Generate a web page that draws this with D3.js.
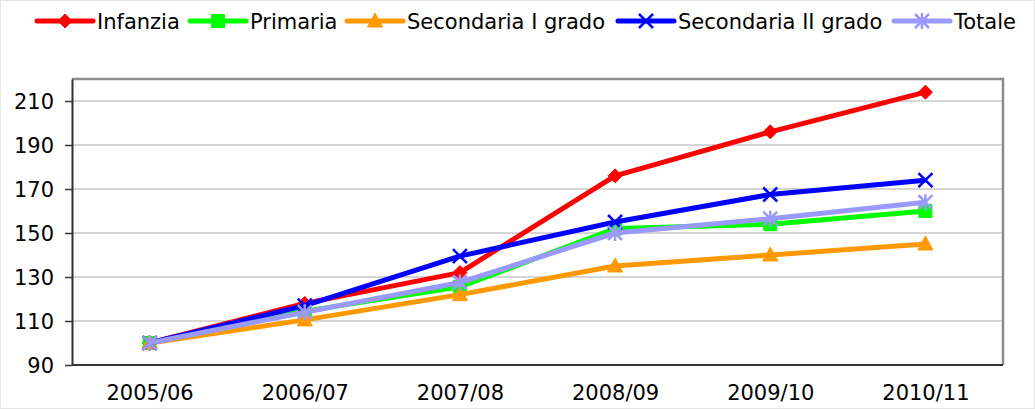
<!DOCTYPE html>
<html>
<head>
<meta charset="utf-8">
<script src="https://cdn.jsdelivr.net/npm/d3@7"></script>
<style>
  body { margin: 0; background: #fff; }
  text { font-family: "DejaVu Sans", Verdana, sans-serif; fill: #000; }
</style>
</head>
<body>
<svg id="chart" width="1035" height="409"></svg>
<script>
// anni scolastici
var years = ['2005/06', '2006/07', '2007/08', '2008/09', '2009/10', '2010/11'];
// valori per serie (indice, 2005/06 = 100)
var infanzia = [100, 118, 132, 176, 196, 214];
var primaria = [100, 114.5, 125.5, 152, 154, 160];
var secondaria1 = [100, 110.5, 122, 135, 140, 145];
var secondaria2 = [100, 117, 139.5, 155, 167.5, 174];
var totale = [100, 114, 127.5, 150, 156.5, 164];
var yTicks = [90, 110, 130, 150, 170, 190, 210];
var seriesNames = ['Infanzia', 'Primaria', 'Secondaria I grado', 'Secondaria II grado', 'Totale'];

var series = [
  {name: seriesNames[0], values: infanzia, color: '#ff0000', marker: 'diamond'},
  {name: seriesNames[1], values: primaria, color: '#00ff00', marker: 'square'},
  {name: seriesNames[2], values: secondaria1, color: '#ff9900', marker: 'triangle'},
  {name: seriesNames[3], values: secondaria2, color: '#0000ff', marker: 'x'},
  {name: seriesNames[4], values: totale, color: '#9999ff', marker: 'star'}
];

var svg = d3.select('#chart');
var plot = {left: 72, right: 1003, top: 79, bottom: 365};
var fontSize = '21px';
var legendStarts = [37, 190, 347, 618, 894]; // x of each legend sample line

// outer chart border
svg.append('rect')
    .attr('x', 0.5).attr('y', 0.5)
    .attr('width', 1034).attr('height', 408)
    .style('fill', 'none')
    .style('stroke', '#e6e6e6');

var x = d3.scalePoint().domain(years).range([plot.left, plot.right]).padding(0.5);
var y = d3.scaleLinear().domain([90, 220]).range([plot.bottom, plot.top]);

// gridlines
svg.append('g')
    .selectAll('line')
    .data(yTicks.slice(1))
    .enter().append('line')
    .attr('x1', plot.left).attr('x2', plot.right)
    .attr('y1', function(d) { return y(d); })
    .attr('y2', function(d) { return y(d); })
    .style('stroke', '#c8c8c8')
    .style('stroke-width', 1.5);

// top and right border of plot
svg.append('path')
    .attr('d', 'M' + plot.left + ',' + plot.top + 'H' + plot.right + 'V' + plot.bottom)
    .style('fill', 'none')
    .style('stroke', '#8c8c8c')
    .style('stroke-width', 2.5);

// Y axis
var yAxis = svg.append('g')
    .attr('transform', 'translate(' + plot.left + ',0)')
    .call(d3.axisLeft(y).tickValues(yTicks).tickSize(7).tickPadding(11).tickSizeOuter(0));
yAxis.select('.domain').style('stroke', '#333').style('stroke-width', 2);
yAxis.selectAll('.tick line').style('stroke', '#333').style('stroke-width', 1.5);
yAxis.selectAll('text').style('font-size', fontSize).attr('dy', '0.36em');

// X axis
var xAxis = svg.append('g')
    .attr('transform', 'translate(0,' + plot.bottom + ')')
    .call(d3.axisBottom(x).tickSize(0).tickPadding(20).tickSizeOuter(0));
xAxis.select('.domain')
    .attr('d', 'M' + plot.left + ',0H' + plot.right)
    .style('stroke', '#333').style('stroke-width', 2);
xAxis.selectAll('text').style('font-size', fontSize);

function markerPath(type) {
  switch (type) {
    case 'diamond': return 'M0,-7L7,0L0,7L-7,0Z';
    case 'square': return 'M-6.5,-6.5H6.5V6.5H-6.5Z';
    case 'triangle': return 'M0,-8L7.5,6H-7.5Z';
    case 'x': return 'M-7,-7L7,7M7,-7L-7,7';
    case 'star': return 'M-7,-7L7,7M7,-7L-7,7M0,-8V8';
  }
}

function drawMarker(g, type, color) {
  var open = (type === 'x' || type === 'star');
  g.append('path')
      .attr('d', markerPath(type))
      .style('fill', open ? 'none' : color)
      .style('stroke', color)
      .style('stroke-width', open ? 2.5 : 1);
}

var line = d3.line()
    .x(function(d, i) { return x(years[i]); })
    .y(function(d) { return y(d); });

series.forEach(function(s) {
  var g = svg.append('g');
  g.append('path')
      .attr('d', line(s.values))
      .style('fill', 'none')
      .style('stroke', s.color)
      .style('stroke-width', 5)
      .style('stroke-linejoin', 'round');
  s.values.forEach(function(v, i) {
    var m = g.append('g').attr('transform', 'translate(' + x(years[i]) + ',' + y(v) + ')');
    drawMarker(m, s.marker, s.color);
  });
});

// legend
var legend = svg.append('g').attr('transform', 'translate(0,21)');
series.forEach(function(s, i) {
  var item = legend.append('g').attr('transform', 'translate(' + legendStarts[i] + ',0)');
  item.append('line')
      .attr('x1', 0).attr('x2', 56)
      .style('stroke', s.color)
      .style('stroke-width', 5)
      .style('stroke-linecap', 'round');
  var m = item.append('g').attr('transform', 'translate(28,0)');
  drawMarker(m, s.marker, s.color);
  item.append('text')
      .attr('x', 60)
      .attr('dy', '0.36em')
      .style('font-size', fontSize)
      .text(s.name);
});
</script>
</body>
</html>
